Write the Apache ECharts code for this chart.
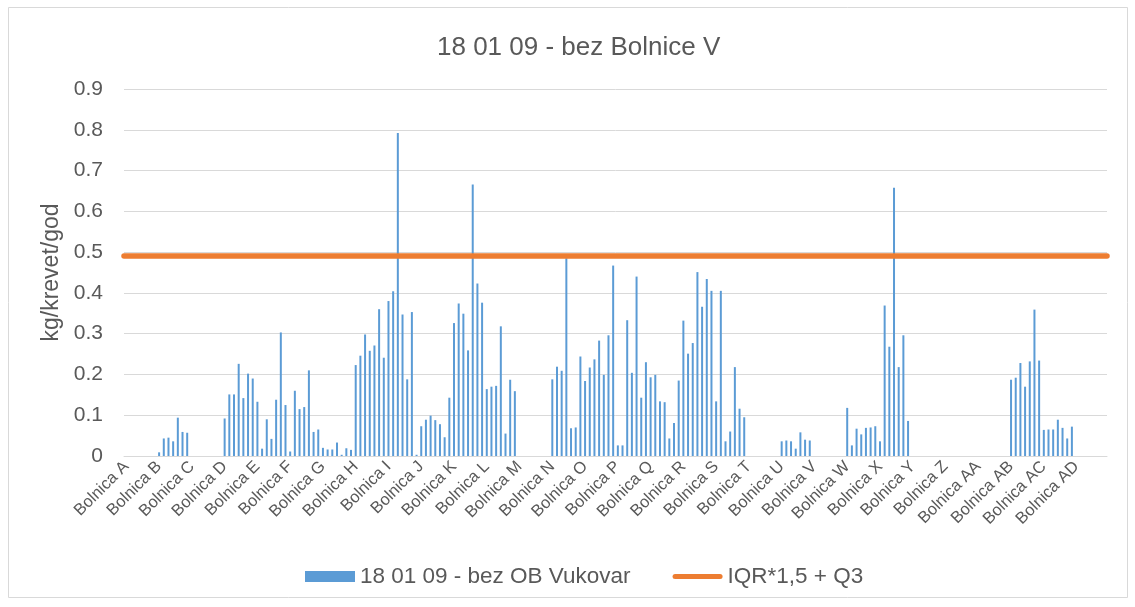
<!DOCTYPE html>
<html>
<head>
<meta charset="utf-8">
<script src="https://cdn.jsdelivr.net/npm/echarts@6/dist/echarts.min.js"></script>
<style>
  html, body { margin: 0; padding: 0; background: #fff; }
  #chart { width: 1135px; height: 607px; }
</style>
</head>
<body>
<div id="chart"></div>
<script>
// bolnice, svaka ima 7 stupaca (razdoblja)
const hospitals = ['Bolnica A', 'Bolnica B', 'Bolnica C', 'Bolnica D', 'Bolnica E', 'Bolnica F',
    'Bolnica G', 'Bolnica H', 'Bolnica I', 'Bolnica J', 'Bolnica K', 'Bolnica L', 'Bolnica M',
    'Bolnica N', 'Bolnica O', 'Bolnica P', 'Bolnica Q', 'Bolnica R', 'Bolnica S', 'Bolnica T',
    'Bolnica U', 'Bolnica V', 'Bolnica W', 'Bolnica X', 'Bolnica Y', 'Bolnica Z', 'Bolnica AA',
    'Bolnica AB', 'Bolnica AC', 'Bolnica AD'];
const periodsPerHospital = 7;

// kg/krevet/god po bolnici
const empty = [null, null, null, null, null, null, null];
const hospitalValues = [
    empty,                                                  // A
    [0.009, 0.043, 0.045, 0.036, 0.094, 0.059, 0.057],      // B
    empty,                                                  // C
    [0.092, 0.151, 0.151, 0.226, 0.142, 0.202, 0.190],      // D
    [0.133, 0.018, 0.090, 0.042, 0.138, 0.303, 0.125],      // E
    [0.011, 0.160, 0.115, 0.120, 0.210, 0.059, 0.065],      // F
    [0.020, 0.016, 0.016, 0.033, 0.003, 0.019, 0.015],      // G
    [0.223, 0.246, 0.298, 0.258, 0.271, 0.360, 0.241],      // H
    [0.380, 0.404, 0.792, 0.347, 0.188, 0.353, 0.003],      // I
    [0.073, 0.089, 0.099, 0.088, 0.078, 0.046, 0.143],      // J
    [0.326, 0.374, 0.349, 0.259, 0.666, 0.423, 0.376],      // K
    [0.164, 0.170, 0.172, 0.318, 0.055, 0.187, 0.159],      // L
    empty,                                                  // M
    [0.188, 0.219, 0.209, 0.485, 0.068, 0.070, 0.244],      // N
    [0.184, 0.217, 0.237, 0.283, 0.199, 0.296, 0.467],      // O
    [0.026, 0.026, 0.333, 0.204, 0.440, 0.143, 0.230],      // P
    [0.193, 0.199, 0.134, 0.132, 0.043, 0.081, 0.185],      // Q
    [0.332, 0.251, 0.277, 0.451, 0.366, 0.434, 0.405],      // R
    [0.134, 0.405, 0.036, 0.060, 0.218, 0.116, 0.095],      // S
    empty,                                                  // T
    [0.036, 0.038, 0.036, 0.018, 0.058, 0.040, 0.038],      // U
    empty,                                                  // V
    [0.118, 0.026, 0.067, 0.053, 0.069, 0.070, 0.073],      // W
    [0.036, 0.369, 0.268, 0.658, 0.218, 0.296, 0.086],      // X
    empty,                                                  // Y
    empty,                                                  // Z
    empty,                                                  // AA
    [0.187, 0.192, 0.228, 0.170, 0.232, 0.359, 0.234],      // AB
    [0.064, 0.065, 0.065, 0.089, 0.069, 0.043, 0.072],      // AC
    empty                                                   // AD
];

// granica IQR*1,5 + Q3
const iqrLimit = 0.491;

const yTicks = [0, 0.1, 0.2, 0.3, 0.4, 0.5, 0.6, 0.7, 0.8, 0.9];

const categories = [];
const barData = [];
hospitals.forEach((h, i) => {
    for (let j = 0; j < periodsPerHospital; j++) {
        categories.push(h + '#' + (j + 1));
        barData.push(hospitalValues[i][j]);
    }
});

const chart = echarts.init(document.getElementById('chart'));

const option = {
    backgroundColor: '#fff',
    animation: false,
    textStyle: { fontFamily: 'Liberation Sans, Arial, sans-serif' },
    title: {
        text: '18 01 09 - bez Bolnice V',
        left: 432,
        top: 30,
        textStyle: { fontSize: 26, fontWeight: 'normal', color: '#595959' }
    },
    graphic: [{
        type: 'rect',
        shape: { x: 8.5, y: 7.5, width: 1119, height: 590 },
        style: { fill: 'none', stroke: '#d9d9d9', lineWidth: 1 },
        silent: true
    }],
    legend: {
        bottom: 14,
        left: 300,
        itemGap: 42,
        itemWidth: 50,
        itemHeight: 11,
        textStyle: { fontSize: 22.5, color: '#595959' },
        data: [
            { name: '18 01 09 - bez OB Vukovar', icon: 'rect' },
            {
                name: 'IQR*1,5 + Q3',
                icon: 'path://M2.5,0 L47.5,0 A2.5,2.5 0 0 1 47.5,5 L2.5,5 A2.5,2.5 0 0 1 2.5,0 Z'
            }
        ]
    },
    grid: { left: 124, right: 28, top: 89, bottom: 151 },
    xAxis: {
        type: 'category',
        data: categories,
        boundaryGap: true,
        axisLine: { lineStyle: { color: '#d9d9d9', width: 1 } },
        axisTick: { show: false },
        axisLabel: {
            interval: periodsPerHospital - 1,
            rotate: 45,
            margin: 8,
            fontSize: 16.5,
            color: '#595959',
            formatter: (v) => v.split('#')[0]
        }
    },
    yAxis: {
        type: 'value',
        min: yTicks[0],
        max: yTicks[yTicks.length - 1],
        interval: 0.1,
        name: 'kg/krevet/god',
        nameLocation: 'middle',
        nameGap: 61,
        nameTextStyle: { fontSize: 23, color: '#595959' },
        axisLine: { show: false },
        axisTick: { show: false },
        axisLabel: {
            fontSize: 21,
            color: '#595959',
            margin: 21,
            formatter: (v) => String(Math.round(v * 10) / 10)
        },
        splitLine: { lineStyle: { color: '#d9d9d9', width: 1 } }
    },
    series: [{
        name: '18 01 09 - bez OB Vukovar',
        type: 'bar',
        data: barData,
        barWidth: 2,
        z: 3,
        itemStyle: { color: '#5B9BD5' }
    }, {
        name: 'IQR*1,5 + Q3',
        type: 'line',
        data: [],
        symbol: 'none',
        z: 2,
        color: '#ED7D31',
        itemStyle: { color: '#ED7D31' },
        lineStyle: { color: '#ED7D31', width: 5 },
        markLine: {
            silent: true,
            symbol: ['none', 'none'],
            label: { show: false },
            lineStyle: { color: '#ED7D31', width: 5.5, type: 'solid', cap: 'round' },
            data: [{ yAxis: iqrLimit }]
        }
    }]
};

chart.setOption(option);
</script>
</body>
</html>
